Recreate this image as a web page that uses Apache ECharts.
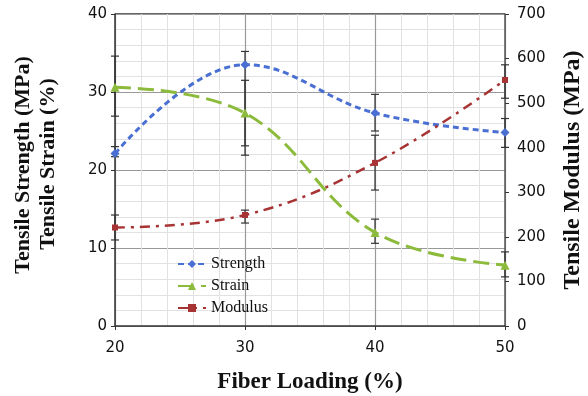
<!DOCTYPE html>
<html><head><meta charset="utf-8">
<script src="https://cdn.jsdelivr.net/npm/echarts@6/dist/echarts.min.js"></script>
<style>html,body{margin:0;padding:0;background:#fff}#c{width:588px;height:396px}</style>
</head><body><div id="c"></div>
<script>
var loading = [20, 30, 40, 50];
var strength = [22.1, 33.5, 27.3, 24.8];
var strain = [30.6, 27.3, 12.0, 7.8];
var modulus = [221, 249, 366, 552];
var strengthLow = [21.7, 21.9, 25.0, 22.9];
var strengthHigh = [23.0, 35.2, 29.7, 26.6];
var strainLow = [26.9, 23.1, 10.6, 6.3];
var strainHigh = [34.6, 31.5, 13.7, 9.5];
var modulusLow = [193, 231, 305, 511];
var modulusHigh = [249, 260, 428, 586];
var leftTicks = [0, 10, 20, 30, 40];
var rightTicks = [0, 100, 200, 300, 400, 500, 600, 700];
var xTicks = [20, 30, 40, 50];

function errData(lo, hi) {
  return loading.map(function (x, i) { return [x, lo[i], hi[i]]; });
}
function errRender(params, api) {
  var x = api.value(0);
  var p1 = api.coord([x, api.value(1)]);
  var p2 = api.coord([x, api.value(2)]);
  var w = 4;
  var st = { stroke: '#333', lineWidth: 1.2 };
  return { type: 'group', children: [
    { type: 'line', shape: { x1: p1[0], y1: p1[1], x2: p2[0], y2: p2[1] }, style: st },
    { type: 'line', shape: { x1: p1[0] - w, y1: p1[1], x2: p1[0] + w, y2: p1[1] }, style: st },
    { type: 'line', shape: { x1: p2[0] - w, y1: p2[1], x2: p2[0] + w, y2: p2[1] }, style: st }
  ]};
}
var tickFont = { color: '#111', fontSize: 15, fontFamily: 'DejaVu Sans' };
var titleFill = '#111';
var chart = echarts.init(document.getElementById('c'));
chart.setOption({
  animation: false,
  grid: { left: 115, right: 83, top: 14, bottom: 70 },
  xAxis: {
    type: 'value', min: xTicks[0], max: xTicks[xTicks.length - 1], interval: 10,
    axisLine: { show: true, onZero: false, lineStyle: { color: '#333', width: 1.5 } },
    axisTick: { show: true, length: 4, lineStyle: { color: '#333' } },
    axisLabel: Object.assign({ margin: 15 }, tickFont),
    splitLine: { show: true, lineStyle: { color: '#999', width: 1.2 } },
    minorTick: { show: false, splitNumber: 5 },
    minorSplitLine: { show: true, lineStyle: { color: '#e2e2e2', width: 1 } }
  },
  yAxis: [{
    type: 'value', min: leftTicks[0], max: leftTicks[leftTicks.length - 1], interval: 10,
    axisLine: { show: true, lineStyle: { color: '#333', width: 1.5 } },
    axisTick: { show: true, length: 4, lineStyle: { color: '#333' } },
    axisLabel: Object.assign({ margin: 8 }, tickFont),
    splitLine: { show: true, lineStyle: { color: '#999', width: 1.2 } },
    minorTick: { show: false, splitNumber: 5 },
    minorSplitLine: { show: true, lineStyle: { color: '#e2e2e2', width: 1 } }
  }, {
    type: 'value', min: rightTicks[0], max: rightTicks[rightTicks.length - 1], interval: 100,
    position: 'right',
    axisLine: { show: true, lineStyle: { color: '#555', width: 1.5 } },
    axisTick: { show: true, length: 4, lineStyle: { color: '#333' } },
    axisLabel: Object.assign({ margin: 12 }, tickFont),
    splitLine: { show: false }
  }],
  legend: {
    orient: 'vertical', left: 172, top: 251, itemGap: 6, itemWidth: 28, itemHeight: 10,
    textStyle: { fontFamily: 'Liberation Serif', fontSize: 16, color: '#111' },
    data: ['Strength', 'Strain', 'Modulus']
  },
  graphic: [
    { type: 'text', x: 23, y: 165, rotation: Math.PI / 2,
      style: { text: 'Tensile Strength (MPa)', font: 'bold 22px "Liberation Serif"', fill: titleFill, align: 'center', verticalAlign: 'middle' } },
    { type: 'text', x: 48, y: 164, rotation: Math.PI / 2,
      style: { text: 'Tensile Strain (%)', font: 'bold 22px "Liberation Serif"', fill: titleFill, align: 'center', verticalAlign: 'middle' } },
    { type: 'text', x: 573, y: 170, rotation: Math.PI / 2,
      style: { text: 'Tensile Modulus (MPa)', font: 'bold 24px "Liberation Serif"', fill: titleFill, align: 'center', verticalAlign: 'middle' } },
    { type: 'text', x: 310, y: 382,
      style: { text: 'Fiber Loading (%)', font: 'bold 23px "Liberation Serif"', fill: titleFill, align: 'center', verticalAlign: 'middle' } },
    { type: 'line', shape: { x1: 115, y1: 14, x2: 505, y2: 14 }, style: { stroke: '#333', lineWidth: 1.5 } }
  ],
  series: [
    { type: 'custom', yAxisIndex: 0, renderItem: errRender, data: errData(strengthLow, strengthHigh), z: 1, silent: true },
    { type: 'custom', yAxisIndex: 0, renderItem: errRender, data: errData(strainLow, strainHigh), z: 1, silent: true },
    { type: 'custom', yAxisIndex: 1, renderItem: errRender, data: errData(modulusLow, modulusHigh), z: 1, silent: true },
    { name: 'Strength', type: 'line', yAxisIndex: 0, smooth: 0.4,
      data: loading.map(function (x, i) { return [x, strength[i]]; }),
      symbol: 'diamond', symbolSize: 9, showSymbol: true,
      itemStyle: { color: '#4A6FD2' },
      lineStyle: { color: '#4A6FD2', width: 3, type: [6, 4] }, z: 3 },
    { name: 'Strain', type: 'line', yAxisIndex: 0, smooth: 0.4,
      data: loading.map(function (x, i) { return [x, strain[i]]; }),
      symbol: 'triangle', symbolSize: 9,
      itemStyle: { color: '#8CBA3A' },
      lineStyle: { color: '#8CBA3A', width: 3, type: [16, 7] }, z: 3 },
    { name: 'Modulus', type: 'line', yAxisIndex: 1, smooth: 0.4,
      data: loading.map(function (x, i) { return [x, modulus[i]]; }),
      symbol: 'rect', symbolSize: 6,
      itemStyle: { color: '#A73334' },
      lineStyle: { color: '#A73334', width: 2.5, type: [10, 6, 3, 6] }, z: 3 }
  ]
});
</script></body></html>
